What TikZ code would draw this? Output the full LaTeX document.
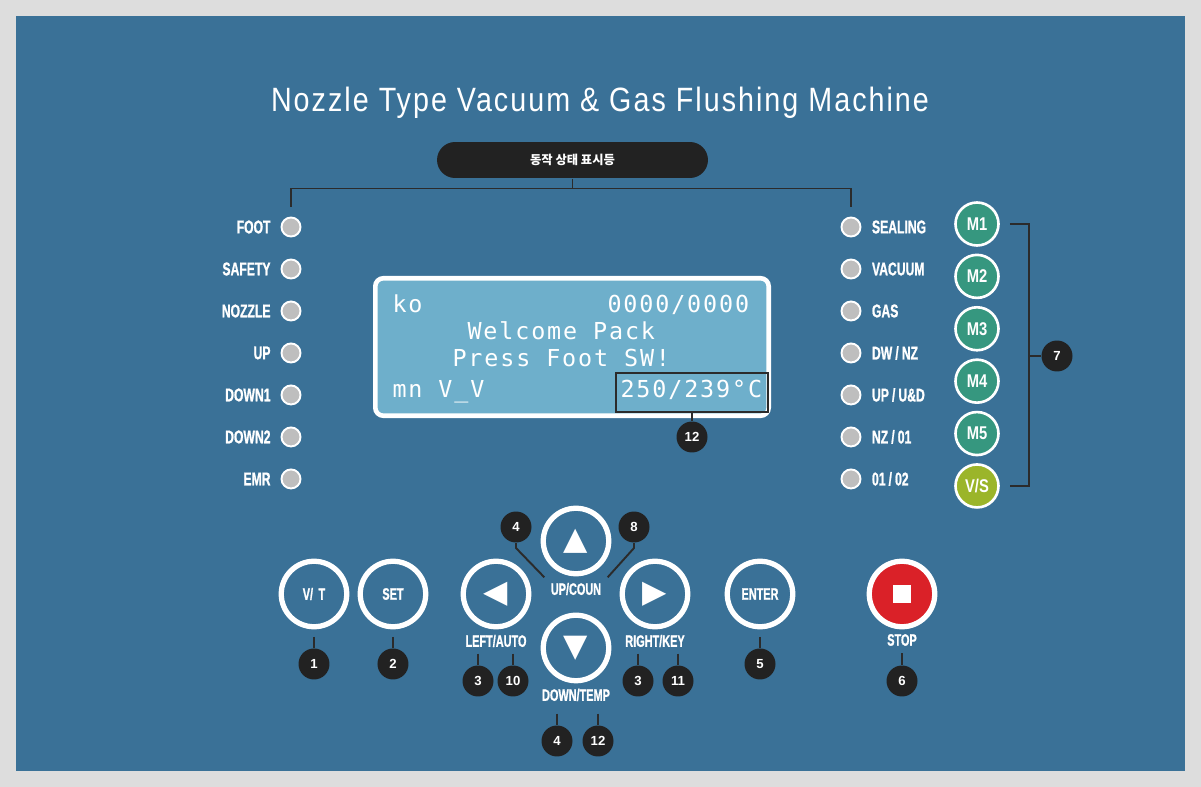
\documentclass[tikz,border=0pt]{standalone}
\usepackage{fontspec}
\usepackage{tikz}
\usetikzlibrary{positioning}

\setmainfont{Liberation Sans}
\newfontfamily\titlefont[FakeStretch=0.85,LetterSpace=6]{Liberation Sans}
\newfontfamily\condfont[FakeStretch=0.66,FakeBold=1]{Liberation Sans}
\newfontfamily\mfont[FakeStretch=0.8]{Liberation Sans}
\newfontfamily\lcdfont[LetterSpace=8]{DejaVu Sans Mono}
\newfontfamily\krfont{Noto Sans CJK KR}
\newfontfamily\symfont{DejaVu Sans}

\definecolor{framegrey}{HTML}{DDDDDD}
\definecolor{panelblue}{HTML}{3A7197}
\definecolor{lcdblue}{HTML}{6EAFCB}
\definecolor{ledgrey}{HTML}{BEBEBE}
\definecolor{badgeblack}{HTML}{222222}
\definecolor{linegrey}{HTML}{2B2B2B}
\definecolor{mgreen}{HTML}{36977F}
\definecolor{vsgreen}{HTML}{9BB52A}
\definecolor{stopred}{HTML}{DA2128}

\begin{document}
\begin{tikzpicture}[
                        x=0.02cm,
                        y=-0.02cm,
                        node distance=0.84cm,
                        semithick
                    ]
                    \tikzstyle{title}=[text=white,inner sep=0pt,font=\titlefont\fontsize{19.2}{23}\selectfont]
                    \tikzstyle{pill}=[rectangle,rounded corners=0.36cm,fill=badgeblack,text=white,minimum width=5.42cm,minimum height=0.72cm,font=\krfont\bfseries\fontsize{7}{8}\selectfont]
                    \tikzstyle{led}=[circle,fill=ledgrey,draw=white,line width=1.1pt,minimum size=0.38cm,inner sep=0pt]
                    \tikzstyle{ledtext}=[text=white,inner sep=0pt,font=\condfont\bfseries\fontsize{10.5}{12}\selectfont]
                    \tikzstyle{mbtn}=[circle,fill=mgreen,draw=white,line width=1.5pt,minimum size=0.86cm,inner sep=0pt,text=white,node distance=1.048cm,font=\mfont\bfseries\fontsize{10.5}{12}\selectfont]
                    \tikzstyle{button}=[circle,draw=white,line width=3pt,minimum size=1.31cm,inner sep=0pt,text=white,font=\condfont\bfseries\fontsize{9.4}{11}\selectfont]
                    \tikzstyle{arrowkey}=[button,font=\symfont\fontsize{18}{18}\selectfont]
                    \tikzstyle{keytext}=[text=white,inner sep=0pt,font=\condfont\bfseries\fontsize{9.4}{11}\selectfont]
                    \tikzstyle{badge}=[circle,fill=badgeblack,text=white,minimum size=0.62cm,inner sep=0pt,font=\bfseries\fontsize{7.5}{9}\selectfont]
                    \tikzstyle{lcd}=[rectangle,rounded corners=0.16cm,fill=lcdblue,draw=white,line width=2.6pt,minimum width=7.87cm,minimum height=2.75cm]
                    \tikzstyle{lcdtext}=[text=white,inner sep=0pt,anchor=base west,font=\lcdfont\fontsize{13.3}{15}\selectfont]
                    \tikzstyle{tempbox}=[rectangle,draw=linegrey,line width=1.1pt,minimum width=3.04cm,minimum height=0.78cm]
                    \tikzstyle{conn}=[draw=linegrey,line width=1.1pt]

                    % panel
                    \fill[framegrey] (0,0) rectangle (1201,787);
                    \fill[panelblue] (16,16) rectangle (1185,771);

                    \node[title,anchor=base] (title)  at (600,112)   {Nozzle Type Vacuum \& Gas Flushing Machine};
                    \node[pill]              (status) at (572.5,160) {동작 상태 표시등};

                    % status lamps
                    \node[led] (foot)   at (291,227)        {};
                    \node[led] (safety) [below of=foot]   {};
                    \node[led] (nozzle) [below of=safety] {};
                    \node[led] (up)     [below of=nozzle] {};
                    \node[led] (down1)  [below of=up]     {};
                    \node[led] (down2)  [below of=down1]  {};
                    \node[led] (emr)    [below of=down2]  {};

                    \node[ledtext] (foot-t)   [left=0.19cm of foot]   {FOOT};
                    \node[ledtext] (safety-t) [left=0.19cm of safety] {SAFETY};
                    \node[ledtext] (nozzle-t) [left=0.19cm of nozzle] {NOZZLE};
                    \node[ledtext] (up-t)     [left=0.19cm of up]     {UP};
                    \node[ledtext] (down1-t)  [left=0.19cm of down1]  {DOWN1};
                    \node[ledtext] (down2-t)  [left=0.19cm of down2]  {DOWN2};
                    \node[ledtext] (emr-t)    [left=0.19cm of emr]    {EMR};

                    \node[led] (sealing) at (851,227)         {};
                    \node[led] (vacuum)  [below of=sealing] {};
                    \node[led] (gas)     [below of=vacuum]  {};
                    \node[led] (dwnz)    [below of=gas]     {};
                    \node[led] (upud)    [below of=dwnz]    {};
                    \node[led] (nzo1)    [below of=upud]    {};
                    \node[led] (o1o2)    [below of=nzo1]    {};

                    \node[ledtext] (sealing-t) [right=0.2cm of sealing] {SEALING};
                    \node[ledtext] (vacuum-t)  [right=0.2cm of vacuum]  {VACUUM};
                    \node[ledtext] (gas-t)     [right=0.2cm of gas]     {GAS};
                    \node[ledtext] (dwnz-t)    [right=0.2cm of dwnz]    {DW\,/\,NZ};
                    \node[ledtext] (upud-t)    [right=0.2cm of upud]    {UP\,/\,U\&D};
                    \node[ledtext] (nzo1-t)    [right=0.2cm of nzo1]    {NZ\,/\,01};
                    \node[ledtext] (o1o2-t)    [right=0.2cm of o1o2]    {01\,/\,02};

                    % memory keys
                    \node[mbtn]              (m1) at (977,224)  {M1};
                    \node[mbtn]              (m2) [below of=m1] {M2};
                    \node[mbtn]              (m3) [below of=m2] {M3};
                    \node[mbtn]              (m4) [below of=m3] {M4};
                    \node[mbtn]              (m5) [below of=m4] {M5};
                    \node[mbtn,fill=vsgreen] (vs) [below of=m5] {V/S};

                    % display
                    \node[lcd]     (lcd)   at (572,347)   {};
                    \node[lcdtext] (row1l) at (392,313)   {ko};
                    \node[lcdtext] (row1r) at (607,313)   {0000/0000};
                    \node[lcdtext] (row2)  at (467,340)   {Welcome Pack};
                    \node[lcdtext] (row3)  at (452,367)   {Press Foot SW!};
                    \node[lcdtext] (row4l) at (392,398)   {mn V\_V};
                    \node[lcdtext] (row4r) at (620,398)   {250/239°C};
                    \node[tempbox] (temp)  at (692,392.5) {};

                    % keys
                    \node[button]             (vt)       at (314,594) {V/\,\,T};
                    \node[button]             (set)      [right of=vt,node distance=1.58cm] {SET};
                    \node[arrowkey]           (upkey)    at (576,541) {▲};
                    \node[arrowkey]           (downkey)  [below of=upkey,node distance=2.14cm] {▼};
                    \node[arrowkey]           (leftkey)  at (496,594) {◀};
                    \node[arrowkey]           (rightkey) at (655,594) {▶};
                    \node[button]             (enter)    at (760,594) {ENTER};
                    \node[button,fill=stopred] (stop)    at (902,594) {\rule{0.36cm}{0.36cm}};

                    \node[keytext] (upkey-t)    [below of=upkey,node distance=0.96cm]    {UP/COUN};
                    \node[keytext] (leftkey-t)  [below of=leftkey,node distance=0.94cm]  {LEFT/AUTO};
                    \node[keytext] (rightkey-t) [below of=rightkey,node distance=0.94cm] {RIGHT/KEY};
                    \node[keytext] (downkey-t)  [below of=downkey,node distance=0.94cm]  {DOWN/TEMP};
                    \node[keytext] (stop-t)     [below of=stop,node distance=0.92cm]     {STOP};

                    % numbers
                    \node[badge] (n7)   at (1057,356) {7};
                    \node[badge] (n12a) at (692,437)  {12};
                    \node[badge] (n1)   [below of=vt,node distance=1.4cm]    {1};
                    \node[badge] (n2)   [below of=set,node distance=1.4cm]   {2};
                    \node[badge] (n5)   [below of=enter,node distance=1.4cm] {5};
                    \node[badge] (n6)   at (902,681)  {6};
                    \node[badge] (n4a)  at (516,527)  {4};
                    \node[badge] (n8)   at (634,527)  {8};
                    \node[badge] (n3a)  at (478,681)  {3};
                    \node[badge] (n10)  at (513,681)  {10};
                    \node[badge] (n3b)  at (638,681)  {3};
                    \node[badge] (n11)  at (678,681)  {11};
                    \node[badge] (n4b)  at (557,741)  {4};
                    \node[badge] (n12b) at (598,741)  {12};

                    % leader lines
                    \draw[conn] (status.south) -- ++(0,10) coordinate (bar);
                    \draw[conn] ([yshift=0.2cm]foot.north) |- (bar) -| ([yshift=0.2cm]sealing.north);

                    \coordinate (mbar) at (1029,356);
                    \draw[conn] ([xshift=0.2cm]m1.east) -| (mbar) |- ([xshift=0.2cm]vs.east);

                    \draw[conn] (n4a.south) -- ++(0,5) -- ([shift={(-6,-5)}]upkey-t.north west);
                    \draw[conn] (n8.south)  -- ++(0,5) -- ([shift={(6,-5)}]upkey-t.north east);

                    \path[conn]
                    (mbar)                     edge                   (n7)
                    (temp)                     edge                   (n12a)
                    (vt)                       edge [shorten <=0.15cm] (n1)
                    (set)                      edge [shorten <=0.15cm] (n2)
                    (enter)                    edge [shorten <=0.15cm] (n5)
                    (stop-t)                   edge [shorten <=0.14cm] (n6)
                    (n3a |- leftkey-t.south)   edge [shorten <=0.12cm] (n3a)
                    (n10 |- leftkey-t.south)   edge [shorten <=0.12cm] (n10)
                    (n3b |- rightkey-t.south)  edge [shorten <=0.12cm] (n3b)
                    (n11 |- rightkey-t.south)  edge [shorten <=0.12cm] (n11)
                    (n4b |- downkey-t.south)   edge [shorten <=0.24cm] (n4b)
                    (n12b |- downkey-t.south)  edge [shorten <=0.24cm] (n12b) ;

                \end{tikzpicture}
\end{document}
